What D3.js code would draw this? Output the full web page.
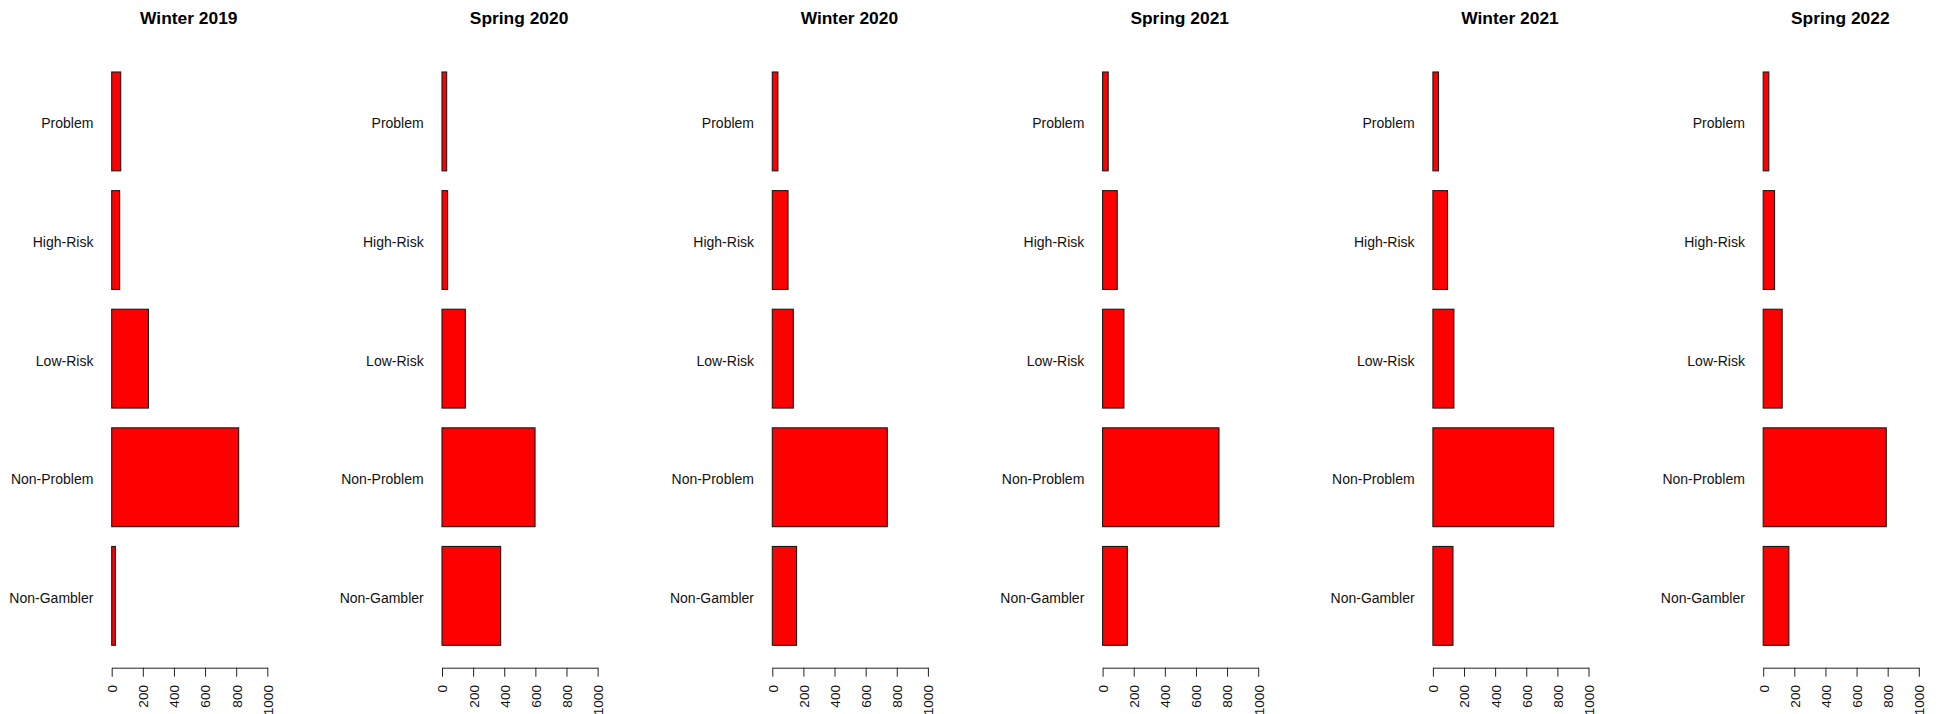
<!DOCTYPE html>
<html>
<head>
<meta charset="utf-8">
<script src="https://cdn.jsdelivr.net/npm/d3@7"></script>
<style>
  html, body { margin: 0; padding: 0; background: #fff; }
  svg { display: block; font-family: "Liberation Sans", Arial, sans-serif; }
</style>
</head>
<body>
<svg id="chart" width="1946" height="714"></svg>
<script>
// ---- data ----
const panelTitles = ["Winter 2019", "Spring 2020", "Winter 2020", "Spring 2021", "Winter 2021", "Spring 2022"];
const categories = ["Non-Gambler", "Non-Problem", "Low-Risk", "High-Risk", "Problem"];
const winter2019 = [24, 816, 236, 51, 58];
const spring2020 = [377, 598, 150, 36, 30];
const winter2020 = [156, 739, 135, 101, 36];
const spring2021 = [159, 748, 137, 94, 36];
const winter2021 = [129, 776, 135, 94, 36];
const spring2022 = [165, 791, 122, 73, 36];
const seriesValues = [winter2019, spring2020, winter2020, spring2021, winter2021, spring2022];
const tickValues = [0, 200, 400, 600, 800, 1000];
const xDomain = [0, 1000];

// ---- layout ----
const svg = d3.select("#chart");
const panelStep = 330.3;
const firstZero = 111.7;
const axisLen = 155.6;
const barsTop = 72, barsBottom = 645.3;
const axisY = 667.7;

panelTitles.forEach((title, i) => {
  const x0 = firstZero + i * panelStep;
  const g = svg.append("g");
  const x = d3.scaleLinear().domain(xDomain).range([x0, x0 + axisLen]);
  const y = d3.scaleBand()
    .domain(categories.slice().reverse())
    .range([barsTop, barsBottom])
    .paddingInner(0.2 / 1.2)
    .paddingOuter(0);

  const data = categories.map((c, k) => ({ cat: c, v: seriesValues[i][k] }));

  g.selectAll("rect.bar").data(data).enter().append("rect")
    .attr("class", "bar")
    .attr("x", x(0))
    .attr("y", d => y(d.cat))
    .attr("width", d => x(d.v) - x(0))
    .attr("height", y.bandwidth())
    .attr("fill", "#FF0000")
    .attr("stroke", "#1a1a1a")
    .attr("stroke-width", 1.1);

  // category labels
  g.selectAll("text.cat").data(data).enter().append("text")
    .attr("class", "cat")
    .attr("x", x0 - 18.3)
    .attr("y", d => y(d.cat) + y.bandwidth() / 2 + 7)
    .attr("text-anchor", "end")
    .attr("font-size", "14px")
    .attr("fill", "#111")
    .text(d => d.cat);

  // title
  g.append("text")
    .attr("x", x0 + 77.1)
    .attr("y", 23.5)
    .attr("text-anchor", "middle")
    .attr("font-size", "17.4px")
    .attr("font-weight", "bold")
    .attr("fill", "#000")
    .text(title);

  // x axis
  const ax = g.append("g")
    .attr("transform", `translate(0,${axisY})`)
    .call(d3.axisBottom(x).tickValues(tickValues).tickSize(9).tickSizeOuter(0).tickFormat(d3.format("d")));
  ax.select(".domain").attr("stroke", "#222").attr("stroke-width", 1);
  ax.selectAll(".tick line").attr("stroke", "#222").attr("stroke-width", 1);
  ax.selectAll(".tick text")
    .attr("transform", "rotate(-90)")
    .attr("x", -17.3)
    .attr("y", 0)
    .attr("dy", "0.36em")
    .attr("text-anchor", "end")
    .attr("font-size", "13.6px")
    .attr("font-family", "'Liberation Sans', Arial, sans-serif")
    .attr("fill", "#111");
});
</script>
</body>
</html>
